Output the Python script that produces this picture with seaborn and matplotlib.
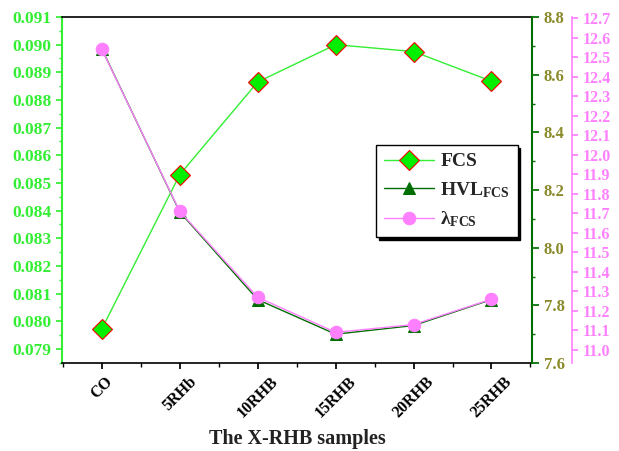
import numpy as np
import pandas as pd
import matplotlib
matplotlib.use("Agg")
import matplotlib.pyplot as plt
import seaborn as sns
from matplotlib import font_manager
from matplotlib.ticker import MultipleLocator, AutoMinorLocator, FormatStrFormatter

samples = ["CO", "5RHb", "10RHB", "15RHB", "20RHB", "25RHB"]
fcs = [0.07972, 0.08530, 0.08865, 0.09000, 0.08975, 0.08868]
hvl_fcs = [8.69, 8.124, 7.82, 7.70, 7.73, 7.82]
lambda_fcs = [12.54, 11.71, 11.27, 11.09, 11.13, 11.26]

sns.set_theme(style="white")
plt.rcParams["font.family"] = ["Liberation Serif", "DejaVu Serif"]
plt.rcParams["font.weight"] = "bold"
plt.rcParams["mathtext.fontset"] = "custom"
plt.rcParams["mathtext.rm"] = "Liberation Serif:bold"
plt.rcParams["mathtext.it"] = "Liberation Serif:bold"
plt.rcParams["mathtext.bf"] = "Liberation Serif:bold"

bold_path = font_manager.findfont(
    font_manager.FontProperties(family="Liberation Serif", weight="bold"))
legend_font = font_manager.FontProperties(fname=bold_path, size=14)

df = pd.DataFrame({"idx": np.arange(len(samples)), "fcs": fcs,
                   "hvl": hvl_fcs, "lam": lambda_fcs})

c_fcs = "#33ee33"
c_hvl = "#006e00"
c_lam = "#ff80ff"

fig = plt.figure(figsize=(6.19, 4.51), dpi=100)
ax = fig.add_axes([0.1002, 0.1951, 0.7593, 0.7672])
ax2 = ax.twinx()
ax3 = ax.twinx()
ax3.spines["right"].set_position(("outward", 29))

sns.lineplot(data=df, x="idx", y="fcs", ax=ax, color=c_fcs, lw=1,
             marker="D", markersize=10, markerfacecolor="#00ee00",
             markeredgecolor="red", markeredgewidth=0.8, label="FCS",
             legend=False)
sns.lineplot(data=df, x="idx", y="hvl", ax=ax2, color=c_hvl, lw=1,
             marker="^", markersize=8, markerfacecolor=c_hvl,
             markeredgecolor=c_hvl, label="HVL$_{\\mathrm{FCS}}$", legend=False)
sns.lineplot(data=df, x="idx", y="lam", ax=ax3, color=c_lam, lw=1,
             marker="o", markersize=9, markerfacecolor=c_lam,
             markeredgecolor=c_lam, label="λ$_{\\mathrm{FCS}}$", legend=False)

ax.set_xlim(-0.51, 5.52)
ax.set_ylim(0.07849, 0.0910)
ax2.set_ylim(7.6, 8.8)
ax3.set_ylim(10.933, 12.705)

ax.set_xticks(range(len(samples)))
ax.set_xticklabels(samples, rotation=45, ha="center", fontsize=11.5,
                   fontweight="bold")
ax.xaxis.set_minor_locator(MultipleLocator(0.5))
ax.set_xlabel("The X-RHB samples", fontsize=14.5, fontweight="bold",
              color="#222222", labelpad=6)
ax.set_ylabel("")
ax2.set_ylabel("")
ax3.set_ylabel("")

# left axis (FCS)
ax.yaxis.set_major_locator(MultipleLocator(0.001))
ax.yaxis.set_minor_locator(AutoMinorLocator(2))
ax.yaxis.set_major_formatter(FormatStrFormatter("%.3f"))
ax.tick_params(axis="y", which="both", direction="out", colors=c_fcs,
               labelsize=12.5, left=True)
ax.tick_params(axis="y", which="major", length=4)
ax.tick_params(axis="y", which="minor", length=2)
ax.tick_params(axis="x", which="both", direction="out", bottom=True,
               colors="black")
ax.tick_params(axis="x", which="major", length=4)
ax.tick_params(axis="x", which="minor", length=3)
ax.spines["left"].set_color(c_fcs)
ax.spines["left"].set_linewidth(1.5)
for s in ("top", "bottom"):
    ax.spines[s].set_color("black")
    ax.spines[s].set_linewidth(1.2)
ax.spines["right"].set_visible(False)

# middle axis (HVL)
ax2.yaxis.set_major_locator(MultipleLocator(0.2))
ax2.yaxis.set_minor_locator(AutoMinorLocator(2))
ax2.yaxis.set_major_formatter(FormatStrFormatter("%.1f"))
ax2.tick_params(axis="y", which="both", direction="out", right=True,
                colors=c_hvl, labelsize=12, labelcolor="#8a8a2a")
ax2.tick_params(axis="y", which="major", length=5)
ax2.tick_params(axis="y", which="minor", length=2.5)
for s in ("left", "top", "bottom"):
    ax2.spines[s].set_visible(False)
ax2.spines["right"].set_color(c_hvl)
ax2.spines["right"].set_linewidth(1.5)

# outer axis (lambda)
ax3.set_yticks(np.round(np.arange(11.0, 12.71, 0.1), 1))
ax3.yaxis.set_major_formatter(FormatStrFormatter("%.1f"))
ax3.tick_params(axis="y", which="both", direction="out", right=True,
                colors=c_lam, labelsize=11.5, length=4)
for s in ("left", "top", "bottom"):
    ax3.spines[s].set_visible(False)
ax3.spines["right"].set_color(c_lam)
ax3.spines["right"].set_linewidth(1.2)

handles = []
labels = []
for a in (ax, ax2, ax3):
    h, l = a.get_legend_handles_labels()
    handles += h
    labels += l
leg = ax3.legend(handles, labels, loc="upper left",
                 bbox_to_anchor=(0.668, 0.63), borderaxespad=0,
                 fancybox=False, frameon=True, handlelength=2.6,
                 handletextpad=0.3, borderpad=0.4,
                 shadow={"color": "black", "alpha": 1},
                 prop=legend_font, labelspacing=0.5)
leg.get_frame().set_edgecolor("black")
leg.get_frame().set_linewidth(1)

fig.savefig("out.png", dpi=100)
